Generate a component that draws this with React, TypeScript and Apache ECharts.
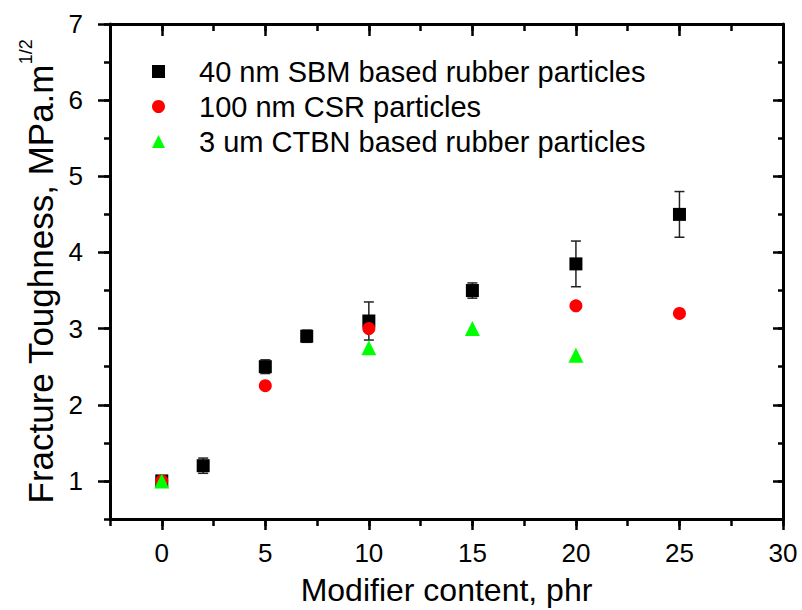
import React, { useEffect, useRef } from "react";
import * as echarts from "echarts";

const FONT = "'Liberation Sans', Arial, sans-serif";

// Data
const xSBM = [0, 2, 5, 7, 10, 15, 20, 25];
const ySBM = [1.0, 1.2, 2.5, 2.9, 3.1, 3.5, 3.85, 4.5];
const errSBM = [0.04, 0.1, 0.09, 0.08, 0.25, 0.1, 0.3, 0.3];

const xCSR = [0, 5, 10, 20, 25];
const yCSR = [1.0, 2.25, 3.0, 3.3, 3.2];

const xCTBN = [0, 10, 15, 20];
const yCTBN = [1.0, 2.75, 3.0, 2.65];

const xMajorTicks = [0, 5, 10, 15, 20, 25, 30];
const yMajorTicks = [1, 2, 3, 4, 5, 6, 7];

const seriesNames = [
  "40 nm SBM based rubber particles",
  "100 nm CSR particles",
  "3 um CTBN based rubber particles",
];

export default function App() {
  const ref = useRef<HTMLDivElement>(null);
  useEffect(() => {
    if (!ref.current) return;
    const chart = echarts.init(ref.current, null, { renderer: "svg" });
    const black = "#000";
    const lineW = 3;
    const tickW = 2.5;
    const baseX = {
      type: "value",
      min: -2.5,
      max: 30,
      splitLine: { show: false },
    };
    const baseY = {
      type: "value",
      min: 0.5,
      max: 7,
      splitLine: { show: false },
    };
    const option: any = {
      animation: false,
      backgroundColor: "#fff",
      grid: {
        left: 110,
        right: 19,
        top: 24,
        bottom: 91,
        containLabel: false,
        outerBoundsMode: "none",
      },
      legend: {
        orient: "vertical",
        left: 152,
        top: 57,
        padding: 0,
        itemGap: 6,
        itemWidth: 13,
        itemHeight: 13,
        data: seriesNames,
        textStyle: {
          fontSize: 29,
          fontFamily: FONT,
          color: black,
          padding: [0, 0, 0, 29],
        },
      },
      xAxis: [
        {
          ...baseX,
          position: "bottom",
          interval: 2.5,
          name: "Modifier content, phr",
          nameLocation: "middle",
          nameGap: 55,
          nameTextStyle: { fontSize: 32, fontFamily: FONT, color: black },
          axisLine: { onZero: false, lineStyle: { color: black, width: lineW } },
          axisTick: { inside: false, length: 7, lineStyle: { color: black, width: tickW } },
          axisLabel: { show: false },
        },
        {
          ...baseX,
          position: "bottom",
          interval: 5,
          axisLine: { show: false, onZero: false },
          axisTick: {
            inside: false,
            length: 11,
            customValues: xMajorTicks,
            lineStyle: { color: black, width: tickW },
          },
          axisLabel: {
            customValues: xMajorTicks,
            formatter: (v: number) => (v % 5 === 0 ? String(v) : ""),
            fontSize: 26,
            fontFamily: FONT,
            color: black,
            margin: 21,
          },
        },
        {
          ...baseX,
          position: "top",
          interval: 2.5,
          axisLine: { onZero: false, lineStyle: { color: black, width: lineW } },
          axisTick: { inside: true, length: 7, lineStyle: { color: black, width: tickW } },
          axisLabel: { show: false },
        },
        {
          ...baseX,
          position: "top",
          interval: 5,
          axisLine: { show: false, onZero: false },
          axisTick: {
            inside: true,
            length: 12,
            customValues: xMajorTicks,
            lineStyle: { color: black, width: tickW },
          },
          axisLabel: { show: false },
        },
      ],
      yAxis: [
        {
          ...baseY,
          position: "left",
          interval: 0.5,
          name: "{a|Fracture Toughness, MPa.m}{b|1/2}",
          nameLocation: "middle",
          nameRotate: 90,
          nameGap: 52,
          nameTextStyle: {
            rich: {
              a: { fontSize: 35, fontFamily: FONT, color: black, verticalAlign: "bottom", lineHeight: 41 },
              b: { fontSize: 18, fontFamily: FONT, color: black, verticalAlign: "top", lineHeight: 41 },
            },
          },
          axisLine: { onZero: false, lineStyle: { color: black, width: lineW } },
          axisTick: { inside: false, length: 6, lineStyle: { color: black, width: tickW } },
          axisLabel: { show: false },
        },
        {
          ...baseY,
          position: "left",
          interval: 1,
          axisLine: { show: false, onZero: false },
          axisTick: {
            inside: false,
            length: 12,
            customValues: yMajorTicks,
            lineStyle: { color: black, width: tickW },
          },
          axisLabel: {
            customValues: yMajorTicks,
            formatter: (v: number) => (Number.isInteger(v) ? String(v) : ""),
            fontSize: 26,
            fontFamily: FONT,
            color: black,
            margin: 27,
          },
        },
        {
          ...baseY,
          position: "right",
          interval: 0.5,
          axisLine: { onZero: false, lineStyle: { color: black, width: lineW } },
          axisTick: { inside: true, length: 5, lineStyle: { color: black, width: tickW } },
          axisLabel: { show: false },
        },
        {
          ...baseY,
          position: "right",
          interval: 1,
          axisLine: { show: false, onZero: false },
          axisTick: {
            inside: true,
            length: 10,
            customValues: yMajorTicks,
            lineStyle: { color: black, width: tickW },
          },
          axisLabel: { show: false },
        },
      ],
      series: [
        {
          name: seriesNames[0],
          type: "scatter",
          xAxisIndex: 0,
          yAxisIndex: 0,
          symbol: "rect",
          symbolSize: 13,
          itemStyle: { color: black, opacity: 1 },
          data: xSBM.map((x, i) => [x, ySBM[i]]),
        },
        {
          name: seriesNames[1],
          type: "scatter",
          xAxisIndex: 0,
          yAxisIndex: 0,
          symbol: "circle",
          symbolSize: 13,
          itemStyle: { color: "#ff0000", opacity: 1 },
          data: xCSR.map((x, i) => [x, yCSR[i]]),
        },
        {
          name: "errSBM",
          type: "custom",
          xAxisIndex: 0,
          yAxisIndex: 0,
          encode: { x: 0, y: [1, 2] },
          data: xSBM.map((x, i) => [x, ySBM[i] - errSBM[i], ySBM[i] + errSBM[i]]),
          renderItem: (params: any, api: any) => {
            const x = api.value(0);
            const pLo = api.coord([x, api.value(1)]);
            const pHi = api.coord([x, api.value(2)]);
            const hw = 5;
            const style = { stroke: "#222", lineWidth: 1.5, fill: "none" };
            return {
              type: "group",
              children: [
                { type: "line", shape: { x1: pLo[0], y1: pLo[1], x2: pHi[0], y2: pHi[1] }, style },
                { type: "line", shape: { x1: pLo[0] - hw, y1: pLo[1], x2: pLo[0] + hw, y2: pLo[1] }, style },
                { type: "line", shape: { x1: pHi[0] - hw, y1: pHi[1], x2: pHi[0] + hw, y2: pHi[1] }, style },
              ],
            };
          },
        },
        {
          name: seriesNames[2],
          type: "scatter",
          xAxisIndex: 0,
          yAxisIndex: 0,
          symbol: "triangle",
          symbolSize: 15,
          itemStyle: { color: "#00ff00", opacity: 1 },
          data: xCTBN.map((x, i) => [x, yCTBN[i]]),
        },
      ],
    };
    chart.setOption(option);
    return () => chart.dispose();
  }, []);
  return (
    <div
      ref={ref}
      style={{ position: "absolute", left: 0, top: 0, width: 802, height: 610, background: "#fff" }}
    />
  );
}
